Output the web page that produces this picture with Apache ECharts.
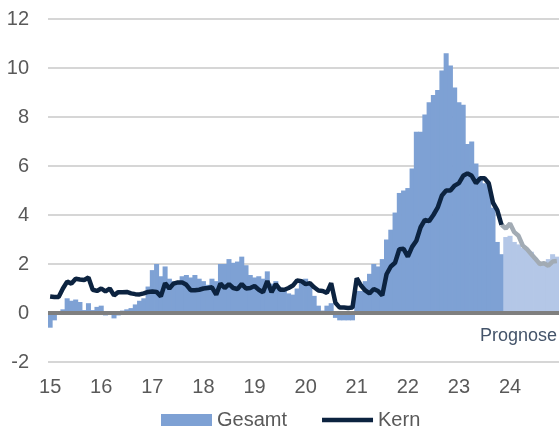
<!DOCTYPE html>
<html><head><meta charset="utf-8">
<script src="https://cdn.jsdelivr.net/npm/echarts@6/dist/echarts.min.js"></script>
<style>html,body{margin:0;padding:0;background:#fff}#c{width:559px;height:430px}</style>
</head><body><div id="c"></div>
<script>
// Years shown on the x axis and their tick labels
const years = [2015, 2016, 2017, 2018, 2019, 2020, 2021, 2022, 2023, 2024];
const yearLabels = ['15', '16', '17', '18', '19', '20', '21', '22', '23', '24'];
const months = ['01','02','03','04','05','06','07','08','09','10','11','12'];
// Monthly categories
const categories = [];
years.forEach(y => months.forEach(m => categories.push(y + '-' + m)));

// Gesamt (headline), monthly, Jan 2015 - Dec 2024 (from Dec 2023: Prognose)
const gesamt = [
  -0.6, -0.3, -0.05, 0.15, 0.6, 0.5, 0.55, 0.45, 0.12, 0.4, 0.12, 0.25,   // 2015
  0.3, -0.1, 0.0, -0.22, -0.1, 0.1, 0.15, 0.2, 0.35, 0.5, 0.6, 1.08,       // 2016
  1.75, 2.0, 1.5, 1.9, 1.4, 1.3, 1.3, 1.5, 1.55, 1.45, 1.55, 1.4,          // 2017
  1.3, 1.15, 1.4, 1.3, 2.0, 2.0, 2.2, 2.05, 2.1, 2.3, 1.95, 1.55,          // 2018
  1.45, 1.5, 1.4, 1.7, 1.2, 1.3, 1.05, 1.0, 0.8, 0.75, 1.0, 1.3,           // 2019
  1.4, 1.2, 0.7, 0.3, 0.1, 0.3, 0.4, -0.2, -0.3, -0.3, -0.3, -0.3,         // 2020
  0.9, 0.9, 1.3, 1.6, 2.0, 1.9, 2.2, 3.0, 3.4, 4.1, 4.9, 5.0,              // 2021
  5.1, 5.9, 7.4, 7.4, 8.1, 8.6, 8.9, 9.1, 9.9, 10.6, 10.1, 9.2,            // 2022
  8.6, 8.5, 6.9, 7.0, 6.1, 5.5, 5.3, 5.2, 4.3, 2.9, 2.4, 3.1,              // 2023
  3.15, 2.9, 2.8, 2.65, 2.6, 2.5, 2.25, 2.05, 2.05, 2.2, 2.4, 2.3          // 2024
];
// Kern (core), monthly
const kern = [
  0.67, 0.65, 0.65, 1.0, 1.28, 1.2, 1.4, 1.37, 1.35, 1.45, 0.95, 0.9,      // 2015
  1.0, 0.88, 1.0, 0.72, 0.85, 0.85, 0.86, 0.8, 0.77, 0.76, 0.8, 0.86,      // 2016
  0.88, 0.86, 0.68, 1.22, 1.0, 1.2, 1.25, 1.25, 1.15, 0.93, 0.93, 0.95,    // 2017
  1.0, 1.02, 1.05, 0.75, 1.2, 1.02, 1.18, 1.02, 0.98, 1.18, 1.0, 1.02,     // 2018
  1.1, 0.95, 0.85, 1.3, 0.85, 1.18, 0.95, 0.95, 1.02, 1.12, 1.33, 1.3,     // 2019
  1.18, 1.22, 1.05, 0.92, 0.9, 0.82, 1.22, 0.42, 0.22, 0.22, 0.2, 0.22,    // 2020
  1.42, 1.12, 0.92, 0.8, 0.98, 0.9, 0.72, 1.58, 1.9, 2.05, 2.6, 2.62,      // 2021
  2.3, 2.7, 2.95, 3.5, 3.8, 3.75, 4.0, 4.3, 4.8, 5.0, 5.0, 5.2,            // 2022
  5.3, 5.6, 5.7, 5.6, 5.3, 5.5, 5.5, 5.3, 4.5, 4.2, 3.6, 3.45,             // 2023
  3.65, 3.3, 3.15, 2.75, 2.6, 2.4, 2.2, 2.0, 2.03, 1.93, 2.1, 2.12         // 2024
];
const lastActual = '2023-11';   // last observed month; afterwards Prognose
const yTicks = { min: -2, max: 12, interval: 2 };

const lastIdx = categories.indexOf(lastActual);
const font = 'Liberation Sans, Arial, sans-serif';
const cBar = '#7ea1d4', cBarF = '#b4c7e7', cLine = '#0c2340', cLineF = '#a2abb4';

const chart = echarts.init(document.getElementById('c'), null, { renderer: 'canvas' });
chart.setOption({
  animation: false,
  grid: { left: 48, right: 0, top: 19, bottom: 68 },
  legend: {
    left: 156, top: 405, itemWidth: 51, itemHeight: 12, itemGap: 35,
    textStyle: { fontFamily: font, fontSize: 20, color: '#595959' },
    data: [
      { name: 'Gesamt', icon: 'rect' },
      { name: 'Kern', icon: 'path://M0,0 L51,0 L51,4.5 L0,4.5 Z', itemStyle: { color: cLine } }
    ]
  },
  xAxis: {
    type: 'category', data: categories, boundaryGap: true,
    axisLine: { show: false }, axisTick: { show: false },
    axisLabel: {
      interval: (i) => i % 12 === 0,
      formatter: (v, i) => yearLabels[years.indexOf(+v.slice(0, 4))],
      fontFamily: font, fontSize: 20, color: '#595959', margin: 15
    },
    splitLine: { show: false }
  },
  yAxis: {
    type: 'value', min: yTicks.min, max: yTicks.max, interval: yTicks.interval,
    axisLine: { show: false }, axisTick: { show: false },
    axisLabel: { fontFamily: font, fontSize: 20, color: '#595959', margin: 19 },
    splitLine: { lineStyle: { color: '#c8c8c8', width: 1.5 } }
  },
  graphic: [{
    type: 'text', right: 2, top: 327,
    style: { text: 'Prognose', font: '18px ' + font, fill: '#44546a' }
  }],
  series: [
    {
      name: 'Gesamt', type: 'bar', barWidth: '118%', barGap: '-100%',
      itemStyle: { color: cBar },
      data: gesamt.map((v, i) => i > lastIdx ? { value: v, itemStyle: { color: cBarF } } : v),
      markLine: {
        silent: true, symbol: 'none', label: { show: false },
        lineStyle: { color: '#7f7f7f', width: 4, type: 'solid' },
        data: [{ yAxis: 0 }]
      }
    },
    {
      name: 'Kern Prognose', type: 'line', symbol: 'none', z: 3,
      lineStyle: { color: cLineF, width: 4.5 }, itemStyle: { color: cLineF },
      data: kern.map((v, i) => i >= lastIdx ? v : null)
    },
    {
      name: 'Kern', type: 'line', symbol: 'none', z: 4,
      lineStyle: { color: cLine, width: 4.5 }, itemStyle: { color: cLine },
      data: kern.map((v, i) => i <= lastIdx ? v : null)
    }
  ]
});
</script></body></html>
